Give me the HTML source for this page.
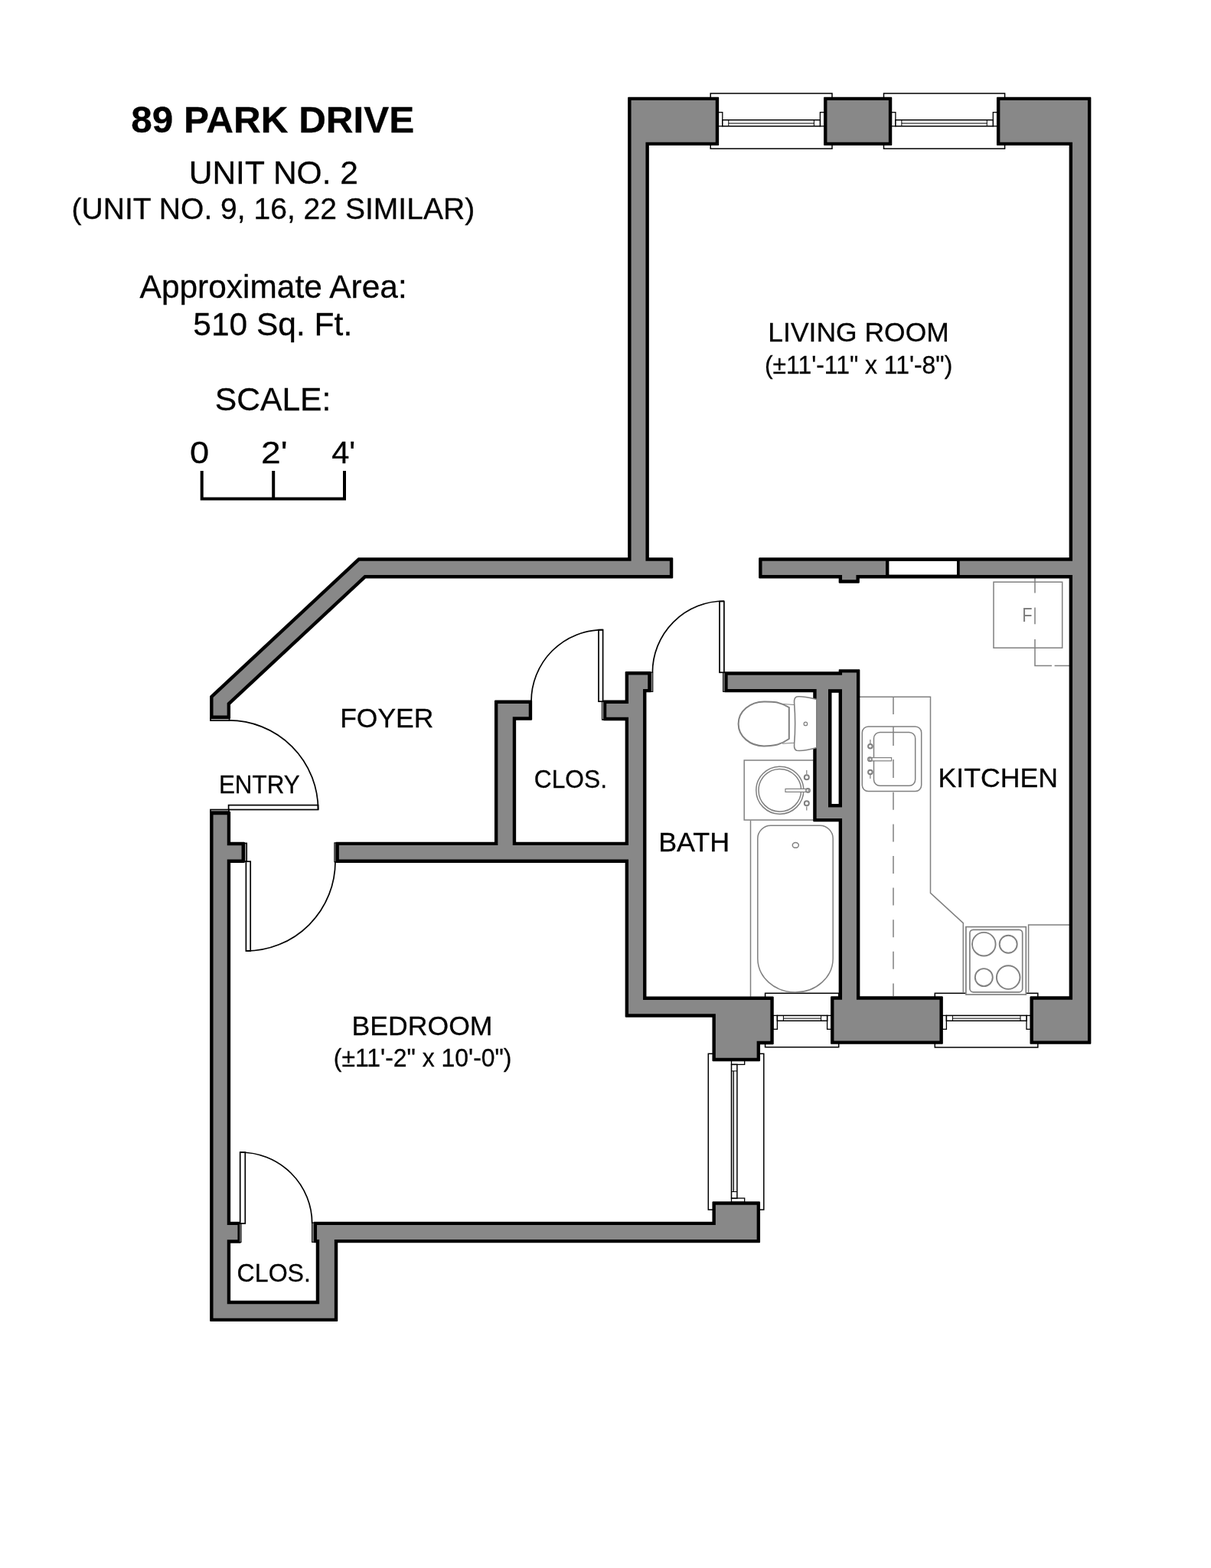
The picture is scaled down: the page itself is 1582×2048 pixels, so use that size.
<!DOCTYPE html>
<html lang="en">
<head>
<meta charset="utf-8">
<title>89 Park Drive - Unit No. 2 Floor Plan</title>
<style>
html,body{margin:0;padding:0;background:#fff;}
body{width:1582px;height:2048px;overflow:hidden;font-family:"Liberation Sans",Arial,Helvetica,sans-serif;}
svg{display:block;}
</style>
</head>
<body>
<svg width="1582" height="2048" viewBox="0 0 1582 2048">
<rect width="1582" height="2048" fill="#fff"/>
<g id="windows">
<rect x="928.2" y="122" width="158.8" height="72.2" fill="#fff" stroke="#000" stroke-width="1.5"/>
<rect x="938.3" y="146.7" width="5.5" height="18.1" fill="#fff" stroke="#000" stroke-width="1.3"/>
<rect x="1071.4" y="146.7" width="5.5" height="18.1" fill="#fff" stroke="#000" stroke-width="1.3"/>
<rect x="943.8" y="156.7" width="127.6" height="8.1" fill="#fff" stroke="#000" stroke-width="1.5"/>
<path d="M951.8 156.7 V164.8 M1063.4 156.7 V164.8 M951.8 161.05 H1063.4" fill="none" stroke="#000" stroke-width="1"/>
<rect x="1154.5" y="122" width="158.1" height="72.2" fill="#fff" stroke="#000" stroke-width="1.5"/>
<rect x="1164.4" y="146.7" width="5.5" height="18.1" fill="#fff" stroke="#000" stroke-width="1.3"/>
<rect x="1297.3" y="146.7" width="5.5" height="18.1" fill="#fff" stroke="#000" stroke-width="1.3"/>
<rect x="1169.9" y="156.7" width="127.4" height="8.1" fill="#fff" stroke="#000" stroke-width="1.5"/>
<path d="M1177.9 156.7 V164.8 M1289.3 156.7 V164.8 M1177.9 161.05 H1289.3" fill="none" stroke="#000" stroke-width="1"/>
<rect x="999.6" y="1297.3" width="96.1" height="70.4" fill="#fff" stroke="#000" stroke-width="1.5"/>
<rect x="1009.9" y="1326.4" width="5.5" height="17.9" fill="#fff" stroke="#000" stroke-width="1.3"/>
<rect x="1080.6" y="1326.4" width="5.5" height="17.9" fill="#fff" stroke="#000" stroke-width="1.3"/>
<rect x="1015.4" y="1326.4" width="65.2" height="6.9" fill="#fff" stroke="#000" stroke-width="1.5"/>
<path d="M1023.4 1326.4 V1333.3 M1072.6 1326.4 V1333.3 M1023.4 1330.15 H1072.6" fill="none" stroke="#000" stroke-width="1"/>
<rect x="1221.3" y="1297.3" width="134.5" height="70.7" fill="#fff" stroke="#000" stroke-width="1.5"/>
<rect x="1230.9" y="1326.4" width="5.5" height="17.9" fill="#fff" stroke="#000" stroke-width="1.3"/>
<rect x="1341" y="1326.4" width="5.5" height="17.9" fill="#fff" stroke="#000" stroke-width="1.3"/>
<rect x="1236.4" y="1326.4" width="104.6" height="6.9" fill="#fff" stroke="#000" stroke-width="1.5"/>
<path d="M1244.4 1326.4 V1333.3 M1333 1326.4 V1333.3 M1244.4 1330.15 H1333" fill="none" stroke="#000" stroke-width="1"/>
<rect x="925.3" y="1376.3" width="72.5" height="203.7" fill="#fff" stroke="#000" stroke-width="1.5"/>
<rect x="955.5" y="1385.2" width="17.2" height="5.2" fill="#fff" stroke="#000" stroke-width="1.3"/>
<rect x="955.5" y="1565" width="17.2" height="5.2" fill="#fff" stroke="#000" stroke-width="1.3"/>
<rect x="955.5" y="1390.4" width="7.4" height="174.6" fill="#fff" stroke="#000" stroke-width="1.5"/>
<rect x="956.2" y="1398.9" width="2.2" height="157.6" fill="#aaa"/>
<path d="M955.5 1398.9 H962.9 M955.5 1556.5 H962.9 M958.4 1398.9 V1556.5" fill="none" stroke="#000" stroke-width="1"/>
</g>
<g id="fixtures" fill="none" stroke="#808080" stroke-width="1.5">
<path d="M1123 910.2 H1215.5 V1166.3 L1258.3 1205.6 V1296.8"/>
<path d="M1167 910 V1301" stroke-dasharray="23 18.6" stroke-width="1.5"/>
<rect x="1126.3" y="948.9" width="77.4" height="84.6" rx="8" fill="#fff"/>
<rect x="1141.5" y="956.5" width="54.2" height="69.8" rx="8" fill="#fff"/>
<path d="M1167 949 V974 M1167 992 V1016" stroke-width="1.5"/>
<rect x="1136" y="989.6" width="28.6" height="4.2" fill="#fff" stroke-width="1.2"/>
<circle cx="1136.4" cy="991.7" r="2.6" stroke-width="1.6"/>
<circle cx="1136.9" cy="974.7" r="2.8" stroke-width="2"/>
<circle cx="1136.9" cy="1008.5" r="2.8" stroke-width="2"/>
<path d="M1136.9 971 V966 M1136.9 1012 V1017" stroke-width="1.2"/>
<rect x="1298" y="760.2" width="89.7" height="86" />
<path d="M1352 752.6 V774.4 M1352 793.6 V815.3 M1352 835 V869.5 H1374 M1377.6 869.5 H1398.3" stroke-width="1.5"/>
<rect x="1261.9" y="1210.6" width="78.4" height="88.4" fill="#fff" stroke-width="1.7"/>
<rect x="1266.9" y="1214.4" width="68.8" height="81.4" rx="4.5" fill="#fff" stroke-width="1.7"/>
<g stroke-width="1.9"><circle cx="1285.3" cy="1233.2" r="15.3"/><circle cx="1317.2" cy="1233.2" r="11.5"/><circle cx="1285.3" cy="1276.6" r="11.5"/><circle cx="1317.2" cy="1276.6" r="15.3"/></g>
<path d="M1343.6 1296.8 V1208.1 H1397"/>
<rect x="972.2" y="993" width="91" height="78"/>
<circle cx="1018.8" cy="1032.2" r="31"/><circle cx="1018.8" cy="1032.2" r="27.8"/>
<rect x="1026" y="1030.4" width="30" height="4" fill="#fff" stroke-width="1.2"/>
<circle cx="1055.5" cy="1032.4" r="2.6" stroke-width="1.6"/>
<circle cx="1053.8" cy="1015.2" r="3" stroke-width="2"/>
<circle cx="1053.8" cy="1049.3" r="3" stroke-width="2"/>
<path d="M1053.8 1011 V1006 M1053.8 1053.5 V1058.5" stroke-width="1.2"/>
<path d="M980.5 1071.5 V1301.9"/>
<path d="M1007 1078.3 H1071 A17 17 0 0 1 1088.2 1095.3 V1252 A49.2 44 0 0 1 989.8 1252 V1095.3 A17 17 0 0 1 1007 1078.3 Z"/>
<ellipse cx="1039.3" cy="1103.9" rx="4" ry="3.4"/>
<path d="M1030.8 924 C1018 916 1008 916.4 998 916.4 C980 916.4 964.6 929 964.6 945.4 C964.6 962 980 974.4 998 974.4 C1008 974.4 1018 974 1030.8 965 Z" stroke-width="2"/>
<path d="M1022 919.5 L1037.5 920.5 M1022 971.3 L1037.5 970.3" stroke-width="1.1"/>
</g>
<path d="M992.15 728.25 L991.65 728.38 L991.28 728.75 L991.15 729.25 L991.15 754.45 L991.28 754.95 L991.65 755.32 L992.15 755.45 L1095.65 755.45 L1095.65 760.75 L1095.78 761.25 L1096.15 761.62 L1096.65 761.75 L1121.85 761.75 L1122.35 761.62 L1122.72 761.25 L1122.85 760.75 L1122.85 755.45 L1396.65 755.45 L1396.65 1301.25 L1346.45 1301.25 L1345.95 1301.38 L1345.58 1301.75 L1345.45 1302.25 L1345.45 1362.85 L1345.58 1363.35 L1345.95 1363.72 L1346.45 1363.85 L1424.35 1363.85 L1424.85 1363.72 L1425.22 1363.35 L1425.35 1362.85 L1425.35 127.65 L1425.22 127.15 L1424.85 126.78 L1424.35 126.65 L1302.95 126.65 L1302.45 126.78 L1302.08 127.15 L1301.95 127.65 L1301.95 189.05 L1302.08 189.55 L1302.45 189.92 L1302.95 190.05 L1396.65 190.05 L1396.65 728.25Z M946.25 903.35 L946.38 903.85 L946.75 904.22 L947.25 904.35 L1062.25 904.35 L1062.25 1072.35 L1062.38 1072.85 L1062.75 1073.22 L1063.25 1073.35 L1095.65 1073.35 L1095.65 1301.25 L1086.05 1301.25 L1085.55 1301.38 L1085.18 1301.75 L1085.05 1302.25 L1085.05 1362.85 L1085.18 1363.35 L1085.55 1363.72 L1086.05 1363.85 L1230.85 1363.85 L1231.35 1363.72 L1231.72 1363.35 L1231.85 1362.85 L1231.85 1302.25 L1231.72 1301.75 L1231.35 1301.38 L1230.85 1301.25 L1123.35 1301.25 L1123.35 875.15 L1123.22 874.65 L1122.85 874.28 L1122.35 874.15 L1096.65 874.15 L1096.15 874.28 L1095.78 874.65 L1095.65 875.15 L1095.65 877.25 L947.25 877.25 L946.75 877.38 L946.38 877.75 L946.25 878.25Z M1077.05 126.65 L1076.55 126.78 L1076.18 127.15 L1076.05 127.65 L1076.05 189.05 L1076.18 189.55 L1076.55 189.92 L1077.05 190.05 L1164.25 190.05 L1164.75 189.92 L1165.12 189.55 L1165.25 189.05 L1165.25 127.65 L1165.12 127.15 L1164.75 126.78 L1164.25 126.65Z M817.65 877.05 L817.15 877.18 L816.78 877.55 L816.65 878.05 L816.65 914.55 L788.85 914.55 L788.35 914.68 L787.98 915.05 L787.85 915.55 L787.85 940.15 L787.98 940.65 L788.35 941.02 L788.85 941.15 L816.65 941.15 L816.65 1099.65 L674.15 1099.65 L674.15 940.75 L694.15 940.75 L694.65 940.62 L695.02 940.25 L695.15 939.75 L695.15 915.55 L695.02 915.05 L694.65 914.68 L694.15 914.55 L646.95 914.55 L646.45 914.68 L646.08 915.05 L645.95 915.55 L645.95 1099.65 L439.45 1099.65 L438.95 1099.78 L438.58 1100.15 L438.45 1100.65 L438.45 1125.95 L438.58 1126.45 L438.95 1126.82 L439.45 1126.95 L816.65 1126.95 L816.65 1327.75 L816.78 1328.25 L817.15 1328.62 L817.65 1328.75 L930.45 1328.75 L930.45 1385.15 L930.58 1385.65 L930.95 1386.02 L931.45 1386.15 L992.05 1386.15 L992.55 1386.02 L992.92 1385.65 L993.05 1385.15 L993.05 1364.15 L1009.75 1364.15 L1010.25 1364.02 L1010.62 1363.65 L1010.75 1363.15 L1010.75 1302.55 L1010.62 1302.05 L1010.25 1301.68 L1009.75 1301.55 L844.45 1301.55 L844.45 904.35 L849.65 904.35 L850.15 904.22 L850.52 903.85 L850.65 903.35 L850.65 878.05 L850.52 877.55 L850.15 877.18 L849.65 877.05Z M275.15 1059.85 L274.65 1059.98 L274.28 1060.35 L274.15 1060.85 L274.15 1725.05 L274.28 1725.55 L274.65 1725.92 L275.15 1726.05 L440.25 1726.05 L440.75 1725.92 L441.12 1725.55 L441.25 1725.05 L441.25 1623.35 L992.05 1623.35 L992.55 1623.22 L992.92 1622.85 L993.05 1622.35 L993.05 1570.35 L992.92 1569.85 L992.55 1569.48 L992.05 1569.35 L931.45 1569.35 L930.95 1569.48 L930.58 1569.85 L930.45 1570.35 L930.45 1595.65 L410.65 1595.65 L410.15 1595.78 L409.78 1596.15 L409.65 1596.65 L409.65 1622.35 L409.78 1622.85 L410.15 1623.22 L410.65 1623.35 L412.75 1623.35 L412.75 1698.75 L301.15 1698.75 L301.15 1623.65 L313.85 1623.65 L314.35 1623.52 L314.72 1623.15 L314.85 1622.65 L314.85 1596.65 L314.72 1596.15 L314.35 1595.78 L313.85 1595.65 L301.15 1595.65 L301.15 1126.95 L318.95 1126.95 L319.45 1126.82 L319.82 1126.45 L319.95 1125.95 L319.95 1100.85 L319.82 1100.35 L319.45 1099.98 L318.95 1099.85 L301.15 1099.85 L301.15 1060.85 L301.02 1060.35 L300.65 1059.98 L300.15 1059.85Z M468.26 728.25 L467.57 728.52 L274.47 908.75 L274.23 909.08 L274.15 909.48 L274.15 937.95 L274.28 938.45 L274.65 938.82 L275.15 938.95 L300.05 938.95 L300.55 938.82 L300.92 938.45 L301.05 937.95 L301.05 920.15 L477.74 755.45 L878.25 755.45 L878.75 755.32 L879.12 754.95 L879.25 754.45 L879.25 729.25 L879.12 728.75 L878.75 728.38 L878.25 728.25 L847.85 728.25 L847.85 190.05 L938.15 190.05 L938.65 189.92 L939.02 189.55 L939.15 189.05 L939.15 127.65 L939.02 127.15 L938.65 126.78 L938.15 126.65 L821.15 126.65 L820.65 126.78 L820.28 127.15 L820.15 127.65 L820.15 728.25Z" fill="#000"/>
<path d="M995.55 732.65 L995.55 751.05 L1100.05 751.05 L1100.05 757.35 L1118.45 757.35 L1118.45 751.05 L1401.05 751.05 L1401.05 1305.65 L1349.85 1305.65 L1349.85 1359.45 L1420.95 1359.45 L1420.95 131.05 L1306.35 131.05 L1306.35 185.65 L1401.05 185.65 L1401.05 732.65Z M950.65 899.95 L1066.65 899.95 L1066.65 1068.95 L1100.05 1068.95 L1100.05 1305.65 L1089.45 1305.65 L1089.45 1359.45 L1227.45 1359.45 L1227.45 1305.65 L1118.95 1305.65 L1118.95 878.55 L1100.05 878.55 L1100.05 881.65 L950.65 881.65Z M1080.45 131.05 L1080.45 185.65 L1160.85 185.65 L1160.85 131.05Z M821.05 881.45 L821.05 918.95 L792.25 918.95 L792.25 936.75 L821.05 936.75 L821.05 1104.05 L669.75 1104.05 L669.75 936.35 L690.75 936.35 L690.75 918.95 L650.35 918.95 L650.35 1104.05 L442.85 1104.05 L442.85 1122.55 L821.05 1122.55 L821.05 1324.35 L934.85 1324.35 L934.85 1381.75 L988.65 1381.75 L988.65 1359.75 L1006.35 1359.75 L1006.35 1305.95 L840.05 1305.95 L840.05 899.95 L846.25 899.95 L846.25 881.45Z M278.55 1064.25 L278.55 1721.65 L436.85 1721.65 L436.85 1618.95 L988.65 1618.95 L988.65 1573.75 L934.85 1573.75 L934.85 1600.05 L414.05 1600.05 L414.05 1618.95 L417.15 1618.95 L417.15 1703.15 L296.75 1703.15 L296.75 1619.25 L310.45 1619.25 L310.45 1600.05 L296.75 1600.05 L296.75 1122.55 L315.55 1122.55 L315.55 1104.25 L296.75 1104.25 L296.75 1064.25Z M469.6 732.65 L278.55 910.96 L278.55 934.55 L296.65 934.55 L296.65 918.24 L476.01 751.05 L874.85 751.05 L874.85 732.65 L843.45 732.65 L843.45 185.65 L934.75 185.65 L934.75 131.05 L824.55 131.05 L824.55 732.65Z" fill="#888888"/>
<rect x="1157" y="729" width="96.7" height="26" fill="#000"/><rect x="1161.4" y="732.9" width="88.6" height="17.7" fill="#fff"/>
<rect x="1082" y="900.2" width="18" height="154.2" fill="#000"/><rect x="1086.5" y="904.8" width="9.1" height="145.2" fill="#fff"/>
<path d="M1041 910 C1048 909 1058 911.5 1066.8 913.5 V976.5 C1058 979 1048 981 1041 980.3 C1037.5 979.5 1037.3 976 1037.6 972 C1039 955 1039 936 1037.6 918 C1037.3 914 1037.5 911 1041 910 Z" fill="#fff" stroke="#808080" stroke-width="1.6"/>
<circle cx="1052.4" cy="945.4" r="2.3" fill="#fff" stroke="#808080" stroke-width="1.2"/>
<g id="doors" fill="none" stroke="#000" stroke-width="1.7">
<g stroke-width="1.1"><rect x="786.5" y="915.6" width="1.9" height="24.6" fill="#fff"/><rect x="850.3" y="878.2" width="2.5" height="25.2" fill="#999"/><rect x="944.6" y="878.2" width="2.4" height="25.2" fill="#999"/><rect x="407.6" y="1597" width="2.6" height="25.4" fill="#999"/><rect x="312.8" y="1597" width="2.2" height="25.4" fill="#999"/><rect x="436.9" y="1100.8" width="2" height="25" fill="#999"/></g>
<rect x="298.6" y="1051.6" width="117" height="5.9" fill="#fff"/>
<path d="M415.6 1057.5 A116.6 116.6 0 0 0 299 940.9"/>
<rect x="275" y="938.5" width="24.6" height="2.6" fill="#fff"/><rect x="275" y="1057.5" width="24" height="2.6" fill="#ddd"/>
<rect x="319.6" y="1101.4" width="2.6" height="23.8" fill="#fff"/>
<rect x="321.4" y="1125.2" width="5.8" height="116.9" fill="#fff"/>
<path d="M438 1125.2 A116.8 116.8 0 0 1 321.4 1242.1"/>
<rect x="782" y="822.6" width="5.6" height="93.6" fill="#fff"/>
<path d="M787.6 822.6 A93.6 93.6 0 0 0 694 916.2"/>
<rect x="940" y="785.5" width="5.9" height="92.8" fill="#fff"/>
<path d="M945.9 785 A93.5 93.5 0 0 0 852.4 878.3"/>
<rect x="313.7" y="1505" width="6.6" height="93" fill="#fff"/>
<path d="M313.7 1505 A94 93 0 0 1 407.7 1598"/>
</g>
<path d="M263.7 615 V651.6 H450 V615 M357.2 615 V651.6" fill="none" stroke="#000" stroke-width="4" stroke-linejoin="miter"/>
<g id="text" style="opacity:0.999" font-family="&quot;Liberation Sans&quot;, Arial, Helvetica, sans-serif">
<text transform="translate(171.22 173) scale(1.0306 1)" font-size="48" font-weight="bold" fill="#000" stroke="#000" stroke-width="0.3">89 PARK DRIVE</text>
<text transform="translate(246.71 240.2) scale(1.0000 1)" font-size="42.5" font-weight="normal" fill="#000" stroke="#000" stroke-width="0.3">UNIT NO. 2</text>
<text transform="translate(93.56 286.4) scale(0.9890 1)" font-size="39.5" font-weight="normal" fill="#000" stroke="#000" stroke-width="0.3">(UNIT NO. 9, 16, 22 SIMILAR)</text>
<text transform="translate(182.59 388.5) scale(1.0107 1)" font-size="42" font-weight="normal" fill="#000" stroke="#000" stroke-width="0.3">Approximate Area:</text>
<text transform="translate(252.3 438.1) scale(1.0119 1)" font-size="42" font-weight="normal" fill="#000" stroke="#000" stroke-width="0.3">510 Sq. Ft.</text>
<text transform="translate(280.68 535.6) scale(1.0157 1)" font-size="42" font-weight="normal" fill="#000" stroke="#000" stroke-width="0.3">SCALE:</text>
<text transform="translate(247.99 605.2) scale(1.0907 1)" font-size="41.5" font-weight="normal" fill="#000" stroke="#000" stroke-width="0.3">0</text>
<text transform="translate(340.99 605.2) scale(1.1133 1)" font-size="41.5" font-weight="normal" fill="#000" stroke="#000" stroke-width="0.3">2'</text>
<text transform="translate(433.26 605.2) scale(0.9998 1)" font-size="41.5" font-weight="normal" fill="#000" stroke="#000" stroke-width="0.3">4'</text>
<text transform="translate(1003.36 445.7) scale(0.9911 1)" font-size="35.8" font-weight="normal" fill="#000" stroke="#000" stroke-width="0.3">LIVING ROOM</text>
<text transform="translate(998.99 487.6) scale(0.9806 1)" font-size="32.5" font-weight="normal" fill="#000" stroke="#000" stroke-width="0.3">(±11'-11" x 11'-8")</text>
<text transform="translate(444.16 950.4) scale(0.9965 1)" font-size="35.6" font-weight="normal" fill="#000" stroke="#000" stroke-width="0.3">FOYER</text>
<text transform="translate(285.89 1036) scale(0.9465 1)" font-size="33.2" font-weight="normal" fill="#000" stroke="#000" stroke-width="0.3">ENTRY</text>
<text transform="translate(697.81 1028.7) scale(0.9610 1)" font-size="33" font-weight="normal" fill="#000" stroke="#000" stroke-width="0.3">CLOS.</text>
<text transform="translate(860.13 1112) scale(1.0080 1)" font-size="35.6" font-weight="normal" fill="#000" stroke="#000" stroke-width="0.3">BATH</text>
<text transform="translate(1225.54 1028) scale(1.0027 1)" font-size="35.6" font-weight="normal" fill="#000" stroke="#000" stroke-width="0.3">KITCHEN</text>
<text transform="translate(459.55 1352.3) scale(1.0001 1)" font-size="35.6" font-weight="normal" fill="#000" stroke="#000" stroke-width="0.3">BEDROOM</text>
<text transform="translate(435.78 1393.4) scale(0.9823 1)" font-size="32.5" font-weight="normal" fill="#000" stroke="#000" stroke-width="0.3">(±11'-2" x 10'-0")</text>
<text transform="translate(309.6 1673.6) scale(0.9727 1)" font-size="33" font-weight="normal" fill="#000" stroke="#000" stroke-width="0.3">CLOS.</text>
<text transform="translate(1335.35 811.8) scale(0.8399 1)" font-size="26" font-weight="normal" fill="#808080">F</text>
</g>
</svg>
</body>
</html>
